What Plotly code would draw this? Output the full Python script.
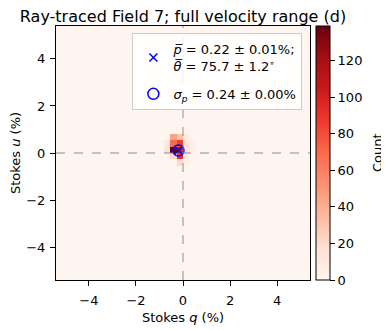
import numpy as np
import plotly.graph_objects as go
import plotly.colors as pc

# ---- data ----
Q_RANGE = [-5.4, 5.4]
U_RANGE = [-5.4, 5.4]
N_BINS = 40
# non-empty histogram cells: bin indices (0..39) and counts
cell_q_idx = [18, 19, 20, 17, 18, 19, 20, 21, 17, 18, 19, 20, 21, 18, 19, 20, 19, 20]
cell_u_idx = [22, 22, 22, 21, 21, 21, 21, 21, 20, 20, 20, 20, 20, 19, 19, 19, 18, 18]
cell_count = [45, 30, 10, 10, 70, 85, 15, 5, 15, 139, 110, 15, 5, 20, 90, 10, 20, 5]
mean_q = [-0.193]
mean_u = [0.105]
legend_x_lines = ["<i>p\u0305</i> = 0.22 \u00b1 0.01%;", "<i>\u03b8\u0305</i> = 75.7 \u00b1 1.2<sup>\u2218</sup>"]
legend_o_text = "<i>\u03c3<sub>p</sub></i> = 0.24 \u00b1 0.00%"
cbar_ticks = [0, 20, 40, 60, 80, 100, 120]
axis_ticks = [-4, -2, 0, 2, 4]

# ---- build histogram grid ----
bw = (Q_RANGE[1] - Q_RANGE[0]) / N_BINS
q_centers = Q_RANGE[0] + bw * (np.arange(N_BINS) + 0.5)
u_centers = U_RANGE[0] + bw * (np.arange(N_BINS) + 0.5)
z = np.zeros((N_BINS, N_BINS))
for qi, ui, c in zip(cell_q_idx, cell_u_idx, cell_count):
    z[ui, qi] = c

reds = pc.make_colorscale(pc.sequential.Reds)

legend_x = legend_x_lines[0] + "<br>" + legend_x_lines[1]
legend_o = legend_o_text

fig = go.Figure()
fig.add_trace(go.Heatmap(
    x=q_centers, y=u_centers, z=z, colorscale=reds, zmin=0, zmax=max(cell_count),
    showscale=True, hoverinfo="skip", showlegend=False,
    colorbar=dict(
        x=1.0236, xanchor="left", xref="paper", y=0.5, yanchor="middle", len=1, lenmode="fraction",
        thickness=14, outlinewidth=1, outlinecolor="black", xpad=0, ypad=0,
        tickvals=cbar_ticks, ticks="outside", ticklen=5, tickcolor="black",
        tickfont=dict(size=13, color="black"),
    ),
))

fig.add_trace(go.Scatter(
    x=mean_q, y=mean_u, mode="markers", name=legend_x, legendgroup="a",
    marker=dict(symbol="x-thin", size=8, line=dict(color="blue", width=1.5), color="blue"),
))
fig.add_trace(go.Scatter(
    x=mean_q, y=mean_u, mode="markers", name=legend_o, legendgroup="b",
    marker=dict(symbol="circle-open", size=11, line=dict(color="blue", width=1.5), color="blue"),
))

dash_style = dict(color="rgba(128,128,128,0.6)", width=1.5, dash="dash")
fig.add_shape(type="line", xref="x", yref="paper", x0=0, x1=0, y0=0, y1=1, line=dash_style, layer="above")
fig.add_shape(type="line", xref="paper", yref="y", x0=0, x1=1, y0=0, y1=0, line=dash_style, layer="above")

fig.add_annotation(text="Count", xref="paper", yref="paper", x=1.2638, y=0.5,
                   xanchor="center", yanchor="middle", textangle=-90, showarrow=False,
                   font=dict(size=13, color="black"))

axis_common = dict(
    showgrid=False, zeroline=False, showline=True, linecolor="black", linewidth=1, mirror=True,
    ticks="outside", ticklen=5, tickcolor="black", tickvals=axis_ticks,
    tickfont=dict(size=13, color="black"),
)
# page body has an 8px default margin, so figure is 8px smaller and margins shifted
fig.update_layout(
    width=381, height=322,
    margin=dict(l=48, r=79, t=18, b=50, autoexpand=False),
    paper_bgcolor="white", plot_bgcolor="white",
    font=dict(family="DejaVu Sans", color="black"),
    title=dict(text="Ray-traced Field 7; full velocity range (d)", x=0.5, xref="paper",
               yref="container", y=0.99, yanchor="top", pad=dict(t=0, b=0),
               font=dict(size=16, color="black")),
    xaxis=dict(range=Q_RANGE, ticklabelstandoff=3,
               title=dict(text="Stokes <i>q</i> (%)", font=dict(size=13), standoff=6), **axis_common),
    yaxis=dict(range=U_RANGE, ticklabelstandoff=2,
               title=dict(text="Stokes <i>u</i> (%)", font=dict(size=13), standoff=11), **axis_common),
    legend=dict(x=0.97, y=0.972, xanchor="right", yanchor="top", bgcolor="rgba(255,255,255,0.85)",
                bordercolor="#cccccc", borderwidth=1, font=dict(size=13, color="black"),
                tracegroupgap=8),
)

fig.write_html("out.html")
